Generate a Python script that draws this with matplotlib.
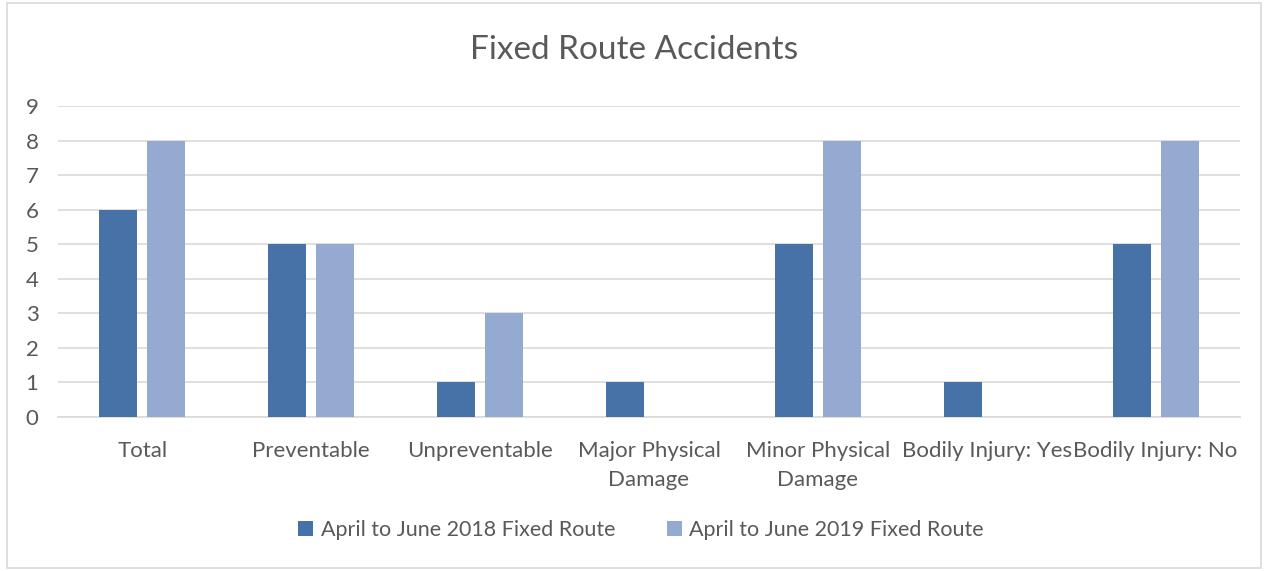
import matplotlib
matplotlib.use("Agg")
import matplotlib.pyplot as plt
import numpy as np
from matplotlib.patches import Rectangle

categories = ["Total", "Preventable", "Unpreventable", "Major Physical\nDamage",
              "Minor Physical\nDamage", "Bodily Injury: Yes", "Bodily Injury: No"]
series_names = ["April to June 2018 Fixed Route", "April to June 2019 Fixed Route"]
values_2018 = [6, 5, 1, 1, 5, 1, 5]
values_2019 = [8, 5, 3, 0, 8, 0, 8]
yticks = list(range(0, 10))

plt.rcParams['font.family'] = ['Lato', 'DejaVu Sans']
text_color = "#595959"
c1 = "#4672A8"
c2 = "#95AAD0"

fig = plt.figure(figsize=(12.68, 5.71), dpi=100)
ax = fig.add_axes([58/1268, 1-417/571, (1240-58)/1268, (417-106)/571])

x = np.arange(len(categories))
bw = 0.225
off = 0.142
ax.bar(x - off, values_2018, bw, color=c1, label=series_names[0], zorder=3)
ax.bar(x + off, values_2019, bw, color=c2, label=series_names[1], zorder=3)

ax.set_xlim(-0.5, len(categories) - 0.5)
ax.set_ylim(0, 9)
ax.set_yticks(yticks)
ax.set_yticklabels([str(t) for t in yticks])
ax.set_xticks(x)
ax.set_xticklabels(categories, linespacing=1.6, va="top")
ax.tick_params(axis="y", length=0, pad=14, labelsize=16, labelcolor=text_color)
ax.tick_params(axis="x", length=0, pad=17, labelsize=16, labelcolor=text_color)
ax.grid(axis="y", color="#D9D9D9", linewidth=1.2, zorder=0)
for s in ["top", "right", "left"]:
    ax.spines[s].set_visible(False)
ax.spines["bottom"].set_color("#D9D9D9")
ax.spines["bottom"].set_linewidth(1.2)

fig.text(0.5, 1-50/571, "Fixed Route Accidents", ha="center", va="center",
         fontsize=24, color=text_color)

leg = fig.legend(loc="center", bbox_to_anchor=(641/1268, 1-530/571), ncol=2,
                 frameon=False, fontsize=15.5, labelcolor=text_color,
                 handlelength=0.7, handleheight=0.7, handletextpad=0.35,
                 columnspacing=2.4)

fig.patches.append(Rectangle((7/1268, 3/571), 1254/1268, 565/571, transform=fig.transFigure,
                             fill=False, edgecolor="#D9D9D9", linewidth=1.2))

fig.savefig("out.png", dpi=100)
